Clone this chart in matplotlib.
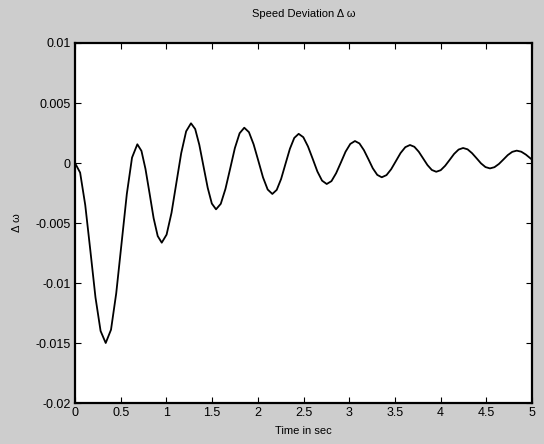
import matplotlib
matplotlib.use("Agg")
import matplotlib.pyplot as plt

# Speed deviation
time_s = [0.000, 0.056, 0.112, 0.168, 0.224, 0.280, 0.336,
          0.394, 0.451, 0.509, 0.567, 0.624, 0.682,
          0.727, 0.771, 0.816, 0.860, 0.905, 0.949,
          1.002, 1.056, 1.109, 1.162, 1.216, 1.269,
          1.315, 1.360, 1.406, 1.452, 1.497, 1.543,
          1.595, 1.646, 1.698, 1.749, 1.801, 1.852,
          1.903, 1.954, 2.006, 2.057, 2.108, 2.159,
          2.207, 2.255, 2.303, 2.351, 2.399, 2.447,
          2.498, 2.549, 2.601, 2.652, 2.703, 2.754,
          2.806, 2.857, 2.909, 2.960, 3.012, 3.063,
          3.112, 3.161, 3.210, 3.258, 3.307, 3.356,
          3.408, 3.459, 3.511, 3.562, 3.614, 3.665,
          3.713, 3.761, 3.809, 3.856, 3.904, 3.952,
          4.001, 4.050, 4.099, 4.148, 4.197, 4.246,
          4.295, 4.344, 4.393, 4.442, 4.491, 4.540,
          4.589, 4.638, 4.687, 4.735, 4.784, 4.833,
          4.883, 4.933, 5.000]
speed_dev = [0.0, -0.0008, -0.0035, -0.0073, -0.0112, -0.0140, -0.0150,
             -0.01389, -0.01086, -0.00672, -0.00258, 0.00045, 0.00156,
             0.00101, -0.00049, -0.00254, -0.00459, -0.00609, -0.00664,
             -0.00597, -0.00415, -0.00166, 0.00082, 0.00264, 0.00331,
             0.00283, 0.00152, -0.00028, -0.00207, -0.00338, -0.00386,
             -0.00340, -0.00216, -0.00046, 0.00124, 0.00248, 0.00294,
             0.00257, 0.00156, 0.00018, -0.00120, -0.00221, -0.00258,
             -0.00224, -0.00133, -0.00007, 0.00118, 0.00209, 0.00243,
             0.00215, 0.00138, 0.00034, -0.00071, -0.00147, -0.00175,
             -0.00151, -0.00085, 0.00004, 0.00094, 0.00159, 0.00183,
             0.00163, 0.00107, 0.00032, -0.00044, -0.00099, -0.00119,
             -0.00101, -0.00052, 0.00016, 0.00083, 0.00132, 0.00150,
             0.00135, 0.00094, 0.00038, -0.00017, -0.00058, -0.00073,
             -0.00060, -0.00023, 0.00026, 0.00076, 0.00112, 0.00125,
             0.00114, 0.00082, 0.00040, -0.00003, -0.00034, -0.00045,
             -0.00035, -0.00008, 0.00029, 0.00066, 0.00093, 0.00103,
             0.00094, 0.00070, 0.00028]

x_ticks = [0, 0.5, 1, 1.5, 2, 2.5, 3, 3.5, 4, 4.5, 5]
x_tick_labels = ["0", "0.5", "1", "1.5", "2", "2.5", "3", "3.5", "4", "4.5", "5"]
y_ticks = [-0.02, -0.015, -0.01, -0.005, 0, 0.005, 0.01]
y_tick_labels = ["-0.02", "-0.015", "-0.01", "-0.005", "0", "0.005", "0.01"]

plt.rcParams['font.family'] = ['Liberation Sans', 'DejaVu Sans']

fig = plt.figure(figsize=(5.44, 4.44), dpi=100, facecolor='#cdcdcd')
ax = fig.add_axes([75/544, 1 - 403/444, (532 - 75)/544, (403 - 43)/444])
ax.set_facecolor('white')

ax.plot(time_s, speed_dev, color='black', linewidth=1.3)

ax.set_xlim(0, 5)
ax.set_ylim(-0.02, 0.01)
ax.set_xticks(x_ticks)
ax.set_xticklabels(x_tick_labels)
ax.set_yticks(y_ticks)
ax.set_yticklabels(y_tick_labels)
ax.tick_params(direction='in', top=True, right=True, length=4, width=0.8,
               labelsize=9, colors='black', pad=3)
for s in ax.spines.values():
    s.set_linewidth(1.6)
    s.set_color('black')

ax.set_title("Speed Deviation \u0394 \u03c9", fontsize=8, pad=19)
ax.set_xlabel("Time in sec", fontsize=8, labelpad=5)
ax.set_ylabel("\u0394 \u03c9", fontsize=8, labelpad=10)

fig.savefig("out.png", dpi=100, facecolor=fig.get_facecolor())
